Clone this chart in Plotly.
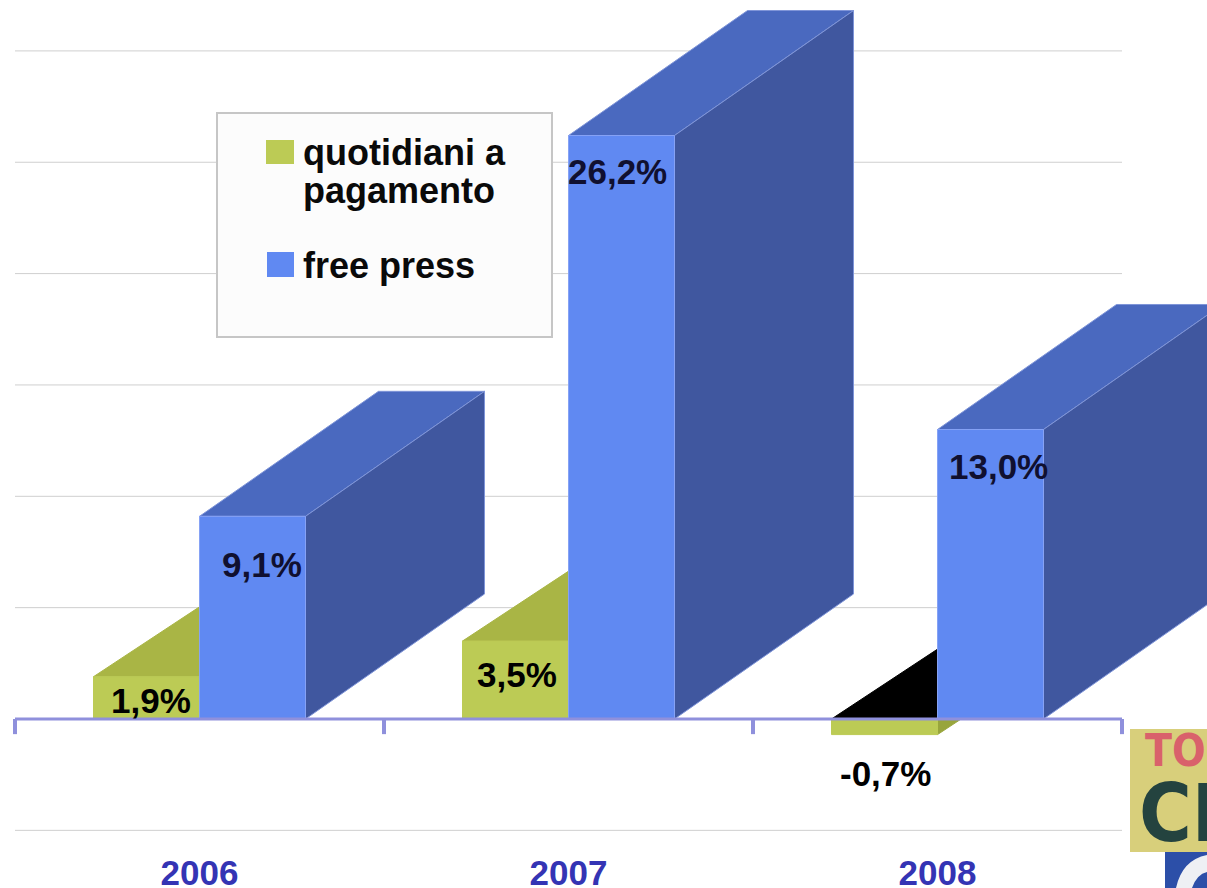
import plotly.graph_objects as go

# ---- data ----
years = ["2006", "2007", "2008"]
paid = [1.9, 3.5, -0.7]
free = [9.1, 26.2, 13.0]
paid_labels = ["1,9%", "3,5%", "-0,7%"]
free_labels = ["9,1%", "26,2%", "13,0%"]
grid_values = [-5, 5, 10, 15, 20, 25, 30]
legend_lines = ["quotidiani a", "pagamento", "free press"]

# ---- geometry / style ----
W, H = 1207, 888
PX_X, PX_Y = 369.0, 22.27
X0, Y0 = 199.5, 719.0
BAR = 106 / PX_X
DX = 179 / PX_X
DY_FREE = 125 / PX_Y
DY_PAID = 118 / PX_Y

GREEN, GREEN_TOP, GREEN_SIDE = "#bccb55", "#a9b545", "#98a53c"
BLUE, BLUE_TOP, BLUE_SIDE = "#6089f2", "#4a69bf", "#40579f"
AXIS = "#8f90dc"
GRID = "#cfcfcf"
FONT = "Liberation Sans"

fig = go.Figure()


def poly(xs, ys, fill, line=None):
    fig.add_trace(go.Scatter(
        x=xs + xs[:1], y=ys + ys[:1], mode="lines", fill="toself", fillcolor=fill,
        line=dict(color=line or fill, width=1), hoverinfo="skip", showlegend=False))


# gridlines
for g in grid_values:
    fig.add_trace(go.Scatter(x=[-0.5, 2.5], y=[g, g], mode="lines",
                             line=dict(color=GRID, width=1), hoverinfo="skip", showlegend=False))


def paid_bar(i, v):
    l, r = i - BAR, i
    top = max(v, 0)
    color_top = "#000000" if v < 0 else GREEN_TOP
    poly([l, r, r + DX, l + DX], [top, top, top + DY_PAID, top + DY_PAID], color_top)
    if v < 0:
        poly([r, r + DX, r + DX, r], [0, DY_PAID, v + DY_PAID, v], GREEN_SIDE)
    poly([l, r, r, l], [min(v, 0), min(v, 0), top, top], GREEN)


def free_bar(i, v):
    l, r = i, i + BAR
    poly([l, r, r + DX, l + DX], [v, v, v + DY_FREE, v + DY_FREE], BLUE_TOP, "#7f95d8")
    poly([r, r + DX, r + DX, r], [0, DY_FREE, v + DY_FREE, v], BLUE_SIDE, "#7f95d8")
    poly([l, r, r, l], [0, 0, v, v], BLUE, "#86a2f5")


for i in range(len(years)):
    paid_bar(i, paid[i])
    free_bar(i, free[i])

# axis line and group ticks
edges = [-0.5, 0.5, 1.5, 2.5]
fig.add_trace(go.Scatter(x=[edges[0], edges[-1]], y=[0, 0], mode="lines",
                         line=dict(color=AXIS, width=3), hoverinfo="skip", showlegend=False))
for e in edges:
    fig.add_trace(go.Scatter(x=[e, e], y=[0, -0.68], mode="lines",
                             line=dict(color=AXIS, width=4), hoverinfo="skip", showlegend=False))

# category labels
fig.add_trace(go.Scatter(x=list(range(len(years))), y=[-7.05] * len(years), mode="text",
                         text=[f"<b>{y}</b>" for y in years],
                         textfont=dict(family=FONT, size=35, color="#3434b4"),
                         hoverinfo="skip", showlegend=False, cliponaxis=False))

annotations = []
paid_off = [(-49, -24), (-52, -33), (-52, -54)]
free_off = [(62, -48), (49, -36), (61, -37)]
for i in range(len(years)):
    annotations.append(dict(x=i, y=max(paid[i], 0), xref="x", yref="y", text=f"<b>{paid_labels[i]}</b>",
                            showarrow=False, xshift=paid_off[i][0], yshift=paid_off[i][1],
                            font=dict(family=FONT, size=35, color="#000000")))
    annotations.append(dict(x=i, y=free[i], xref="x", yref="y", text=f"<b>{free_labels[i]}</b>",
                            showarrow=False, xshift=free_off[i][0], yshift=free_off[i][1],
                            font=dict(family=FONT, size=35, color="#101030")))


def px(x):
    return x / W


def py(y):
    return 1 - y / H


shapes = [
    dict(type="rect", xref="paper", yref="paper", x0=px(217), x1=px(552), y0=py(337), y1=py(113),
         fillcolor="#fcfcfc", line=dict(color="#c6c6c6", width=2), layer="above"),
    dict(type="rect", xref="paper", yref="paper", x0=px(266), x1=px(294), y0=py(164), y1=py(140),
         fillcolor=GREEN, line=dict(width=0), layer="above"),
    dict(type="rect", xref="paper", yref="paper", x0=px(267), x1=px(294), y0=py(277), y1=py(252),
         fillcolor=BLUE, line=dict(width=0), layer="above"),
    # logo fragment in the corner
    dict(type="rect", xref="paper", yref="paper", x0=px(1130), x1=px(1207), y0=py(852), y1=py(729),
         fillcolor="#d8cf7b", line=dict(width=0), layer="above"),
    dict(type="rect", xref="paper", yref="paper", x0=px(1165), x1=px(1207), y0=py(888), y1=py(852),
         fillcolor="#2c4fa8", line=dict(width=0), layer="above"),
    dict(type="path", xref="paper", yref="paper", layer="above", fillcolor="#eef0f4", line=dict(width=0),
         path=f"M {px(1176)} {py(888)} Q {px(1182)} {py(860)} {px(1207)} {py(855)} "
              f"L {px(1207)} {py(872)} Q {px(1197)} {py(874)} {px(1192)} {py(888)} Z"),
]

for text, ypos in zip(legend_lines, [153, 190, 265]):
    annotations.append(dict(x=px(301), y=py(ypos), xref="paper", yref="paper", xanchor="left", yanchor="middle",
                            align="left", showarrow=False, text=f"<b>{text}</b>",
                            font=dict(family=FONT, size=36, color="#0a0a0a")))

annotations += [
    dict(x=px(1143), y=py(750), xref="paper", yref="paper", xanchor="left", yanchor="middle", showarrow=False,
         text="<b>TO</b>", font=dict(family="DejaVu Sans Condensed", size=44, color="#d9616b")),
    dict(x=px(1137), y=py(813), xref="paper", yref="paper", xanchor="left", yanchor="middle", showarrow=False,
         text="<b>CR</b>", font=dict(family="DejaVu Sans Condensed", size=80, color="#24433f")),
]

fig.update_layout(
    width=W, height=H, margin=dict(l=0, r=0, t=0, b=0, pad=0),
    paper_bgcolor="#ffffff", plot_bgcolor="#ffffff", showlegend=False,
    xaxis=dict(range=[-X0 / PX_X, (W - X0) / PX_X], visible=False, fixedrange=True),
    yaxis=dict(range=[(Y0 - H) / PX_Y, Y0 / PX_Y], visible=False, fixedrange=True),
    shapes=shapes, annotations=annotations,
)

fig.write_html("out.html", config=dict(displayModeBar=False),
               post_script="document.body.style.margin='0';document.documentElement.style.overflow='hidden';")
